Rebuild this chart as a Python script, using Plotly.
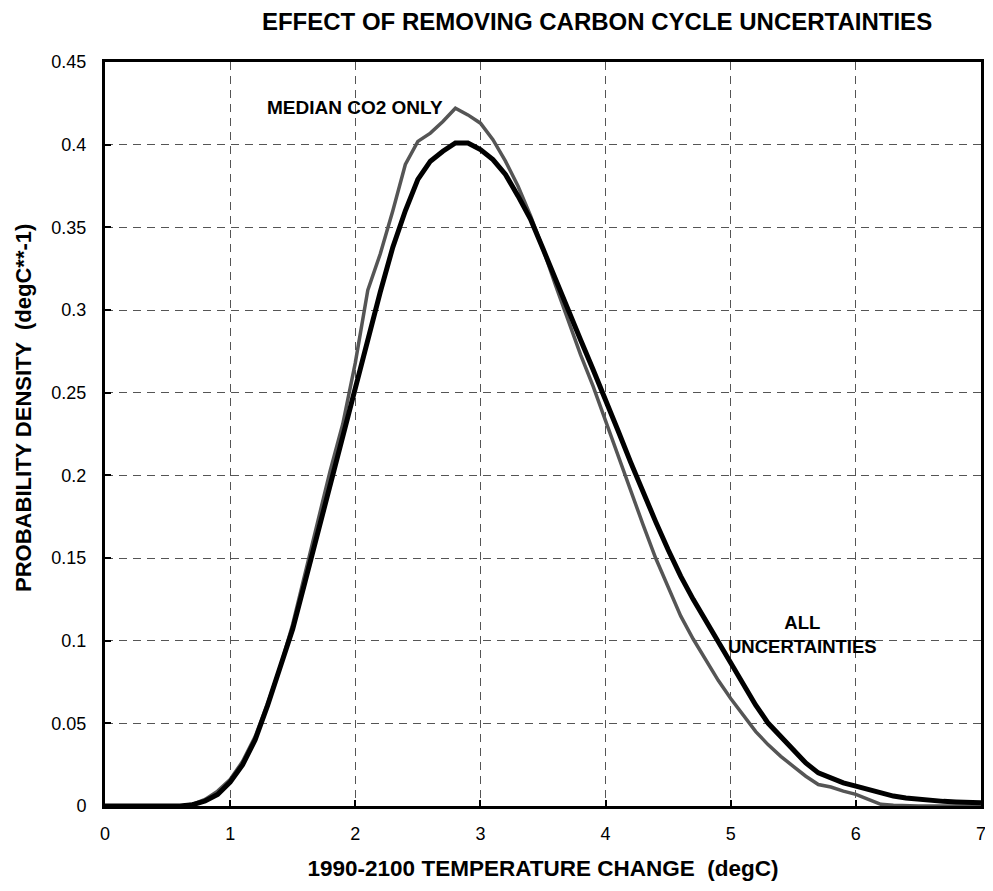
import plotly.graph_objects as go

# Temperature change grid (degC)
temp = [round(0.1 * i, 1) for i in range(71)]

# All uncertainties (black curve)
all_unc = [
    0, 0, 0, 0, 0, 0, 0, 0.0008, 0.003, 0.007,
    0.0145, 0.025, 0.040, 0.061, 0.083, 0.107, 0.136, 0.165, 0.194, 0.223,
    0.253, 0.283, 0.311, 0.338, 0.360, 0.379, 0.390, 0.396, 0.401, 0.401,
    0.397, 0.391, 0.382, 0.369, 0.355, 0.337, 0.318, 0.300, 0.282, 0.264,
    0.246, 0.227, 0.208, 0.189, 0.172, 0.155, 0.139, 0.125, 0.112, 0.099,
    0.086, 0.073, 0.061, 0.050, 0.042, 0.033, 0.026, 0.020, 0.017, 0.014,
    0.012, 0.010, 0.008, 0.006, 0.0048, 0.004, 0.0033, 0.0028, 0.0024, 0.0021,
    0.0019,
]

# Median CO2 only (grey curve)
median_co2 = [
    0, 0, 0, 0, 0, 0, 0, 0.001, 0.004, 0.009,
    0.016, 0.027, 0.042, 0.062, 0.084, 0.110, 0.140, 0.172, 0.203, 0.231,
    0.268, 0.312, 0.334, 0.360, 0.388, 0.402, 0.407, 0.414, 0.422, 0.418,
    0.413, 0.403, 0.390, 0.375, 0.357, 0.337, 0.315, 0.294, 0.273, 0.254,
    0.233, 0.211, 0.190, 0.170, 0.150, 0.132, 0.115, 0.101, 0.088, 0.076,
    0.065, 0.055, 0.045, 0.037, 0.030, 0.024, 0.018, 0.013, 0.0115, 0.009,
    0.007, 0.004, 0.001, 0.0005, 0, 0, 0, 0, 0, 0,
    0,
]

x_ticks = [0, 1, 2, 3, 4, 5, 6, 7]
y_ticks = [0, 0.05, 0.1, 0.15, 0.2, 0.25, 0.3, 0.35, 0.4, 0.45]
y_labels = ["0", "0.05", "0.1", "0.15", "0.2", "0.25", "0.3", "0.35", "0.4", "0.45"]

FONT = "Liberation Sans, Arial, sans-serif"

fig = go.Figure()
fig.add_trace(go.Scatter(
    x=temp, y=median_co2, mode="lines", name="MEDIAN CO2 ONLY",
    line={"color": "#555555", "width": 3.5},
))
fig.add_trace(go.Scatter(
    x=temp, y=all_unc, mode="lines", name="ALL UNCERTAINTIES",
    line={"color": "#000000", "width": 5},
))

fig.add_annotation(
    x=2.0, y=0.4225, text="<b>MEDIAN CO2 ONLY</b>", showarrow=False,
    font={"family": FONT, "size": 19, "color": "#000"},
)
fig.add_annotation(
    x=5.57, y=0.1035, text="<b>ALL<br>UNCERTAINTIES</b>", showarrow=False,
    font={"family": FONT, "size": 18.5, "color": "#000"},
)
# y-axis title sits a little above the plot's centre in the original
fig.add_annotation(
    xref="paper", yref="paper", x=0, y=0.535, xshift=-81,
    xanchor="center", yanchor="middle", textangle=-90, showarrow=False,
    text="<b>PROBABILITY DENSITY  (degC**-1)</b>",
    font={"family": FONT, "size": 22, "color": "#000"},
)

axis_common = {
    "showline": True, "linecolor": "#000", "linewidth": 3, "mirror": True,
    "showgrid": True, "gridcolor": "#555555", "gridwidth": 1, "griddash": "8px,6px",
    "ticks": "inside", "ticklen": 6, "tickwidth": 2, "tickcolor": "#000",
    "zeroline": False, "automargin": False, "ticklabeloverflow": "allow",
    "tickfont": {"family": FONT, "size": 18, "color": "#000"},
}

# page body adds an 8px offset, so the figure is sized to fit inside it
fig.update_layout(
    width=985, height=875,
    paper_bgcolor="white", plot_bgcolor="white",
    showlegend=False,
    margin={"l": 97, "r": 12, "t": 54, "b": 77},
    title={
        "text": "<b>EFFECT OF REMOVING CARBON CYCLE UNCERTAINTIES</b>",
        "x": 0.598, "xanchor": "center", "y": 0.984, "yanchor": "middle",
        "font": {"family": FONT, "size": 24, "color": "#000"},
    },
    xaxis={
        **axis_common,
        "range": [0, 7], "tickvals": x_ticks, "ticklabelstandoff": 9,
        "title": {"text": "<b>1990-2100 TEMPERATURE CHANGE  (degC)</b>",
                  "font": {"family": FONT, "size": 22.5, "color": "#000"}, "standoff": 18},
    },
    yaxis={
        **axis_common,
        "range": [0, 0.45], "tickvals": y_ticks, "ticktext": y_labels,
        "ticklabelstandoff": 12,
    },
)

fig.write_html("out.html")
